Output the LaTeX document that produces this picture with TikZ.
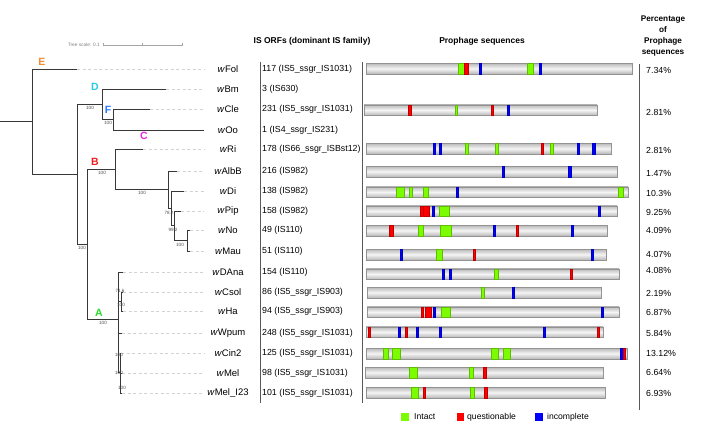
\documentclass[tikz,border=0pt]{standalone}
\usepackage{fontspec}
\setmainfont{Liberation Sans}
\usepackage{tikz}
\usepackage{xcolor}

\definecolor{cladeE}{RGB}{240,140,50}
\definecolor{cladeD}{RGB}{40,200,230}
\definecolor{cladeF}{RGB}{40,120,255}
\definecolor{cladeC}{RGB}{230,40,230}
\definecolor{cladeB}{RGB}{240,30,30}
\definecolor{cladeA}{RGB}{40,220,40}
\definecolor{intact}{RGB}{124,252,0}
\definecolor{quest}{RGB}{255,0,0}
\definecolor{incompl}{RGB}{0,0,255}

% prophage bar: y, start, end
\newcommand{\phbar}[3]{\shade[top color=gray!55,bottom color=gray!55,middle color=gray!8,draw=gray!85,line width=0.4pt] (#2,#1-5.3) rectangle (#3,#1+5.3);}
% hit on a bar: colour, y, start, end
\newcommand{\hit}[4]{\filldraw[fill=#1,draw=#1!75!black,line width=0.25pt] (#3,#2-5.3) rectangle (#4,#2+5.3);}

\begin{document}
\begin{tikzpicture}[x=1pt,y=-1pt,
    branch/.style={draw=black!78,line width=0.9pt},
    leader/.style={draw=gray!35,line width=0.6pt,dash pattern=on 3pt off 2.5pt},
    taxon/.style={font=\fontsize{9.5}{11}\selectfont,inner sep=0pt},
    boot/.style={font=\fontsize{4.6}{5}\selectfont,text=black!70,inner sep=0pt},
    clade/.style={font=\fontsize{10.5}{12}\selectfont\bfseries,inner sep=0pt},
    orf/.style={anchor=west,font=\fontsize{8.8}{10}\selectfont,inner sep=0pt},
    pct/.style={anchor=west,font=\fontsize{8.8}{10}\selectfont,inner sep=0pt},
    head/.style={font=\fontsize{8.5}{11}\selectfont\bfseries,inner sep=0pt,align=center},
    sep/.style={draw=black!65,line width=0.8pt}]
  \useasboundingbox[fill=white] (0,0) rectangle (708,436);

  % tree scale
  \node[font=\fontsize{4.8}{5}\selectfont,text=gray,anchor=east,inner sep=0pt] (scaletxt) at (100,45) {Tree scale: 0.1};
  \coordinate (s0) at (103,45);
  \coordinate (s1) at (142.5,45);
  \coordinate (s2) at (182,45);
  \draw[gray!70,line width=0.5pt] (s0) -- (s2);
  \foreach \s in {s0,s1,s2} \draw[gray!70,line width=0.5pt] (\s) ++(0,-1.5) -- ++(0,3);

  % taxa: tips, leaders, labels
  \foreach \n/\y/\tx/\lab in {Fol/69/77/Fol, Bm/89/166/Bm, Cle/109/150/Cle, Oo/130/204/Oo,
      Ri/149/143/Ri, AlbB/171/177/AlbB, Di/191/184/Di, Pip/211/181/Pip, No/230/190/No,
      Mau/251/190/Mau, DAna/272/123/DAna, Csol/292/123/Csol, Ha/311/123/Ha,
      Wpum/333/122/Wpum, Cin/353/121/Cin2, Mel/373/122/Mel, MelI/393/122/Mel\_I23} {
    \coordinate (t\n) at (\tx,\y);
    \coordinate (e\n) at (204,\y);
    \draw[leader] (t\n) -- (e\n);
    \node[taxon] (l\n) at (228,\y) {\textit{w}\lab};
  }

  % inner nodes
  \coordinate (base) at (0,121.5);
  \coordinate (nR) at (32,121.5);
  \coordinate (nE) at (77,174);
  \coordinate (nD) at (102,104);
  \coordinate (nF) at (113,119.5);
  \coordinate (nAB) at (87,244);
  \coordinate (nB) at (115,169);
  \coordinate (n1) at (168,189.5);
  \coordinate (n2) at (171,208);
  \coordinate (n3) at (174,225.5);
  \coordinate (n4) at (187,240.5);
  \coordinate (nA) at (118,319);
  \coordinate (nCH) at (121,301.5);
  \coordinate (nM) at (120,372);

  \draw[branch] (base) -- (nR);
  \draw[branch] (nR) |- (tFol);
  \draw[branch] (nR) |- (nE);
  \draw[branch] (nE) |- (nD);
  \draw[branch] (nE) |- (nAB);
  \draw[branch] (nD) |- (tBm);
  \draw[branch] (nD) |- (nF);
  \draw[branch] (nF) |- (tCle);
  \draw[branch] (nF) |- (tOo);
  \draw[branch] (nAB) |- (nB);
  \draw[branch] (nAB) |- (nA);
  \draw[branch] (nB) |- (tRi);
  \draw[branch] (nB) |- (n1);
  \draw[branch] (n1) |- (tAlbB);
  \draw[branch] (n1) |- (n2);
  \draw[branch] (n2) |- (tDi);
  \draw[branch] (n2) |- (n3);
  \draw[branch] (n3) |- (tPip);
  \draw[branch] (n3) |- (n4);
  \draw[branch] (n4) |- (tNo);
  \draw[branch] (n4) |- (tMau);
  \draw[branch] (nA) |- (tDAna);
  \draw[branch] (nA) |- (nCH);
  \draw[branch] (nA) |- (tWpum);
  \draw[branch] (nA) |- (nM);
  \draw[branch] (nCH) |- (tCsol);
  \draw[branch] (nCH) |- (tHa);
  \draw[branch] (nM) |- (tCin);
  \draw[branch] (nM) |- (tMel);
  \draw[branch] (nM) |- (tMelI);

  % clade letters
  \node[clade,text=cladeE] (cE) at (42,62) {E};
  \node[clade,text=cladeD] (cD) at (95,87) {D};
  \node[clade,text=cladeF] (cF) at (108,110) {F};
  \node[clade,text=cladeC] (cC) at (144,136) {C};
  \node[clade,text=cladeB] (cB) at (95,162) {B};
  \node[clade,text=cladeA] (cA) at (99,313) {A};

  % bootstrap values
  \foreach \bx/\by/\bv [count=\i] in {90/108/100, 108/123/100, 82/248/100, 102/173/100,
      142/193/100, 169/213/78.2, 173/230/99.2, 180/245/100, 103/323/100, 120/291/71.6,
      121/305/100, 119/355/100, 119/373/100, 122/388/100}
    \node[boot] (bs\i) at (\bx,\by) {\bv};

  % column headers
  \node[head] (hIS) at (312,41) {IS ORFs (dominant IS family)};
  \node[head] (hPro) at (482,41) {Prophage sequences};
  \node[head,font=\fontsize{8.2}{11}\selectfont\bfseries] (hPct) at (663,36.5) {Percentage\\of\\Prophage\\sequences};

  % separators
  \draw[sep] (260,62) -- (260,403);
  \draw[sep] (362,62) -- (362,403);
  \draw[sep] (639,64) -- (639,410);

  % IS ORFs
  \foreach \y/\txt [count=\i] in {69/117 (IS5\_ssgr\_IS1031), 89/3 (IS630), 109/231 (IS5\_ssgr\_IS1031),
      130/1 (IS4\_ssgr\_IS231), 149/178 (IS66\_ssgr\_ISBst12), 171/216 (IS982), 191/138 (IS982),
      211/158 (IS982), 230/49 (IS110), 251/51 (IS110), 272/154 (IS110), 292/86 (IS5\_ssgr\_IS903),
      311/94 (IS5\_ssgr\_IS903), 333/248 (IS5\_ssgr\_IS1031), 353/125 (IS5\_ssgr\_IS1031),
      373/98 (IS5\_ssgr\_IS1031), 393/101 (IS5\_ssgr\_IS1031)}
    \node[orf] (is\i) at (262,\y) {\txt};

  % percentages
  \foreach \y/\p [count=\i] in {70/7.34, 112/2.81, 150/2.81, 173/1.47, 193/10.3, 212/9.25, 230/4.09,
      254/4.07, 270/4.08, 293/2.19, 312/6.87, 333/5.84, 353/13.12, 372/6.64, 393/6.93}
    \node[pct] (pc\i) at (646,\y) {\p\%};

  % prophage bars
  \phbar{68.5}{366}{632}
  \foreach \c/\a/\b in {intact/458/464,quest/464/468,incompl/479.5/481.5,intact/527/533,incompl/539.5/541.5} {\hit{\c}{68.5}{\a}{\b}}
  \phbar{110}{364}{597}
  \foreach \c/\a/\b in {quest/408/411,intact/455.5/457.5,quest/491/493,incompl/507/509} {\hit{\c}{110}{\a}{\b}}
  \phbar{148.5}{366}{611}
  \foreach \c/\a/\b in {incompl/433/435,incompl/439/441,intact/465/468,intact/495/498,quest/541/543,intact/550/553,incompl/577/579,incompl/592/595} {\hit{\c}{148.5}{\a}{\b}}
  \phbar{171.5}{366}{617}
  \foreach \c/\a/\b in {incompl/502/504,incompl/568/571} {\hit{\c}{171.5}{\a}{\b}}
  \phbar{192}{366}{628}
  \foreach \c/\a/\b in {intact/396/404,intact/409/412,intact/423/428,incompl/456/458,intact/618/623} {\hit{\c}{192}{\a}{\b}}
  \phbar{211}{366}{617}
  \foreach \c/\a/\b in {quest/420/423,quest/423/429,incompl/432/434,intact/439/449,incompl/598/600} {\hit{\c}{211}{\a}{\b}}
  \phbar{230.5}{366}{607}
  \foreach \c/\a/\b in {quest/389/393,intact/418/423,intact/440/451,incompl/493/495,quest/516/518,incompl/571/573} {\hit{\c}{230.5}{\a}{\b}}
  \phbar{254.5}{366}{606}
  \foreach \c/\a/\b in {incompl/400/402,intact/436/442,quest/473/475,incompl/591/593} {\hit{\c}{254.5}{\a}{\b}}
  \phbar{274}{366}{619}
  \foreach \c/\a/\b in {incompl/442/444,incompl/449/451,intact/494/498,quest/570/572} {\hit{\c}{274}{\a}{\b}}
  \phbar{292.5}{367}{601}
  \foreach \c/\a/\b in {intact/481/484,incompl/512/514} {\hit{\c}{292.5}{\a}{\b}}
  \phbar{312}{367}{619}
  \foreach \c/\a/\b in {quest/421/423,quest/425/431,incompl/433/435,intact/441/450,incompl/601/603} {\hit{\c}{312}{\a}{\b}}
  \phbar{332}{366}{603}
  \foreach \c/\a/\b in {quest/368/370,incompl/398/400,quest/405/407,incompl/416/418,incompl/439/441,incompl/543/545,quest/597/599} {\hit{\c}{332}{\a}{\b}}
  \phbar{353.5}{366}{627}
  \foreach \c/\a/\b in {intact/383/388,intact/392/400,intact/491/498,intact/503/510,incompl/620/623,quest/623/625} {\hit{\c}{353.5}{\a}{\b}}
  \phbar{372.5}{365}{603}
  \foreach \c/\a/\b in {intact/409/417,intact/469/473,quest/483/486} {\hit{\c}{372.5}{\a}{\b}}
  \phbar{392.5}{366}{605}
  \foreach \c/\a/\b in {intact/411/418,quest/423.5/425.5,intact/470/474,quest/484/487} {\hit{\c}{392.5}{\a}{\b}}

  % legend
  \fill[intact] (401,413) rectangle (409,421);
  \node[pct,font=\fontsize{8.6}{10}\selectfont] (legI) at (414,417) {Intact};
  \fill[quest] (457,413) rectangle (464,421);
  \node[pct,font=\fontsize{8.6}{10}\selectfont] (legQ) at (467,417) {questionable};
  \fill[incompl] (535,413) rectangle (543,421);
  \node[pct,font=\fontsize{8.6}{10}\selectfont] (legN) at (547,417) {incomplete};
\end{tikzpicture}
\end{document}
